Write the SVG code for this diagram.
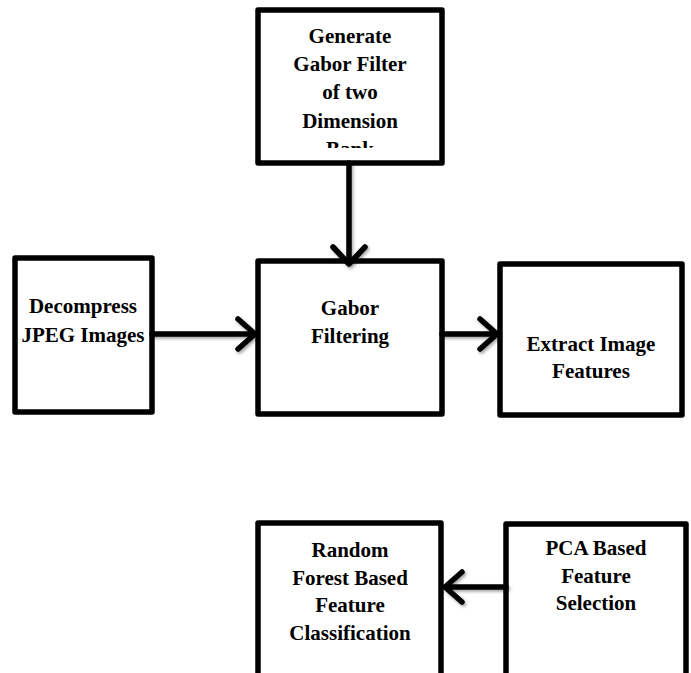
<svg xmlns="http://www.w3.org/2000/svg" width="691" height="673" viewBox="0 0 691 673">
  <style>
    .box { fill: #ffffff; stroke: #000000; stroke-width: 5.5; stroke-linejoin: round; }
    .label { font-family: 'Liberation Serif', 'DejaVu Serif', 'Times New Roman', Times, serif; font-weight: 700; font-size: 21px; fill: #000000; text-anchor: middle; }
    .wire { fill: none; stroke: #000000; stroke-width: 5.5; stroke-linecap: round; stroke-linejoin: round; }
  </style>
  <defs>
    <filter id="softShadow" x="-20%" y="-20%" width="140%" height="140%">
      <feDropShadow dx="1.5" dy="2" stdDeviation="1.5" flood-color="#000000" flood-opacity="0.35"/>
    </filter>
    <clipPath id="bankClip">
      <rect x="258" y="10" width="184" height="138"/>
    </clipPath>
  </defs>
  <rect width="691" height="673" fill="#ffffff"/>

  <g id="generate-bank">
    <rect class="box" x="258" y="10" width="184" height="153"/>
    <g clip-path="url(#bankClip)">
      <text class="label" x="350" y="43">Generate</text>
      <text class="label" x="350" y="71">Gabor Filter</text>
      <text class="label" x="350" y="99">of two</text>
      <text class="label" x="350" y="128">Dimension</text>
      <text class="label" x="350" y="156">Bank</text>
    </g>
  </g>

  <g id="decompress">
    <rect class="box" x="15" y="258" width="137" height="154"/>
    <text class="label" x="83" y="313">Decompress</text>
    <text class="label" x="83" y="342">JPEG Images</text>
  </g>

  <g id="gabor-filtering">
    <rect class="box" x="258" y="261" width="184" height="153"/>
    <text class="label" x="350" y="315">Gabor</text>
    <text class="label" x="350" y="343">Filtering</text>
  </g>

  <g id="extract-features">
    <rect class="box" x="500" y="264" width="182" height="151"/>
    <text class="label" x="591" y="351">Extract Image</text>
    <text class="label" x="591" y="378">Features</text>
  </g>

  <g id="random-forest">
    <rect class="box" x="258" y="523" width="183" height="160"/>
    <text class="label" x="350" y="557">Random</text>
    <text class="label" x="350" y="585">Forest Based</text>
    <text class="label" x="350" y="612">Feature</text>
    <text class="label" x="350" y="640">Classification</text>
  </g>

  <g id="pca-selection">
    <rect class="box" x="506" y="524" width="180" height="160"/>
    <text class="label" x="596" y="555">PCA Based</text>
    <text class="label" x="596" y="583">Feature</text>
    <text class="label" x="596" y="610">Selection</text>
  </g>

  <g id="connectors" filter="url(#softShadow)">
    <!-- bank down to filtering -->
    <path class="wire" d="M349 163 V263"/>
    <path class="wire" d="M333 247 L349 264 L365 247"/>
    <!-- decompress to filtering -->
    <path class="wire" d="M152 334 H254"/>
    <path class="wire" d="M238 319 L255 334 L238 349"/>
    <!-- filtering to features -->
    <path class="wire" d="M442 334 H496"/>
    <path class="wire" d="M480 319 L497 334 L480 349"/>
    <!-- selection to classification -->
    <path class="wire" d="M506 587 H446"/>
    <path class="wire" d="M462 572 L445 587 L462 602"/>
  </g>
</svg>
